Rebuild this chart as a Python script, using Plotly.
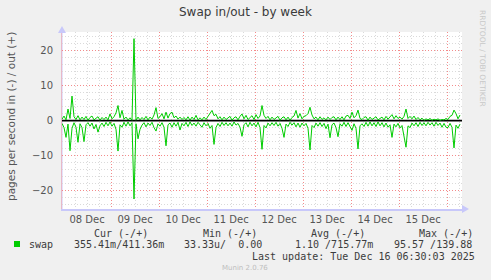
import pandas as pd
import plotly.graph_objects as go

# hourly samples, pages per second
swap_out = [0.4, 1.3, 0.2, 3.3, 0.6, 7.0, 1.1, 0.3, 1.4, 0.2,
            1.0, 0.3, 1.2, 0.1, 0.9, 1.3, 0.2, 0.8, 1.1, 0.1,
            0.9, 0.3, 1.0, 0.2, 1.9, 0.5, 1.1, 2.2, 4.3, 0.8,
            2.9, 0.4, 1.0, 0.2, 0.8, 0.1, 23.4, 0.1, 1.0, 0.2,
            0.9, 0.3, 1.2, 0.2, 1.0, 0.4, 1.6, 3.7, 0.6, 1.1,
            2.0, 0.5, 2.4, 0.7, 2.0, 2.4, 0.8, 1.3, 0.4, 1.0,
            0.3, 0.9, 0.2, 1.1, 0.1, 1.0, 0.3, 1.5, 0.2, 0.8,
            0.2, 1.0, 0.3, 1.2, 2.0, 2.9, 1.4, 1.8, 0.5, 1.1,
            0.2, 1.0, 0.3, 0.9, 1.2, 0.1, 0.8, 1.1, 0.2, 1.2,
            1.9, 0.5, 1.5, 0.3, 1.0, 1.4, 0.3, 1.7, 0.6, 1.3,
            4.3, 1.5, 0.6, 1.2, 0.2, 1.0, 0.3, 0.9, 1.2, 0.1,
            0.8, 1.1, 0.2, 1.0, 0.1, 0.9, 1.3, 2.9, 0.7, 2.0,
            0.5, 1.2, 1.4, 2.0, 3.8, 1.6, 0.5, 1.0, 0.2, 1.1,
            0.3, 0.8, 0.2, 1.0, 0.3, 0.9, 1.1, 0.2, 1.0, 0.3,
            1.1, 0.2, 1.3, 1.5, 0.6, 2.4, 0.8, 1.4, 3.0, 0.6,
            0.3, 0.9, 1.1, 0.1, 1.0, 0.3, 0.8, 1.1, 0.2, 0.7,
            1.0, 0.2, 1.2, 0.4, 1.2, 1.7, 0.5, 1.4, 0.6, 1.0,
            0.4, 1.2, 3.3, 0.6, 1.2, 0.5, 1.3, 0.3, 0.9, 0.2,
            0.7, 0.1, 0.5, 0.2, 0.6, 0.1, 0.4, 0.2, 0.5, 0.1,
            0.3, 0.2, 0.6, 0.3, 1.2, 1.5, 3.0, 2.0, 0.5, 1.6]

swap_in = [0.8, 2.0, 4.8, 1.0, 8.6, 2.2, 0.6, 1.9, 6.2, 0.9,
           2.0, 6.0, 1.2, 0.6, 1.6, 0.7, 2.4, 1.1, 3.3, 1.5,
           0.7, 1.7, 0.5, 1.5, 0.4, 1.6, 0.8, 2.5, 8.7, 1.2,
           1.9, 0.5, 1.6, 0.4, 1.5, 0.6, 22.4, 0.9, 5.2, 2.5,
           1.3, 0.6, 1.8, 0.7, 1.4, 0.5, 2.0, 3.0, 0.9, 1.6,
           0.6, 1.9, 7.2, 1.2, 0.7, 1.9, 0.6, 1.6, 0.5, 2.7,
           0.8, 1.5, 0.5, 1.7, 0.4, 1.4, 0.7, 1.6, 0.5, 1.3,
           1.9, 0.6, 1.5, 0.8, 2.2, 1.4, 6.8, 2.0, 0.8, 1.7,
           0.5, 1.4, 0.6, 1.5, 0.7, 1.6, 0.4, 1.3, 0.8, 1.9,
           4.5, 1.2, 0.6, 1.8, 0.5, 1.5, 0.7, 1.8, 0.5, 2.0,
           8.2, 1.4, 2.1, 0.7, 1.5, 0.6, 1.4, 0.5, 1.6, 0.8,
           2.2, 4.8, 1.0, 1.7, 0.5, 1.3, 0.6, 1.8, 0.7, 1.9,
           0.7, 1.5, 0.8, 2.2, 8.4, 1.4, 2.0, 0.7, 1.6, 0.6,
           1.7, 0.8, 2.3, 1.0, 4.9, 1.2, 0.7, 2.0, 4.6, 0.9,
           1.6, 0.5, 1.7, 0.6, 1.9, 2.8, 0.9, 2.2, 8.1, 1.5,
           0.9, 1.7, 0.5, 1.6, 0.4, 1.5, 0.6, 1.7, 0.4, 1.5,
           0.6, 1.8, 0.7, 1.9, 1.2, 4.8, 1.0, 1.8, 0.8, 2.1,
           1.4, 4.8, 7.6, 1.5, 2.0, 0.7, 1.5, 0.6, 1.7, 0.5,
           1.4, 0.6, 1.5, 0.5, 1.3, 0.6, 1.6, 0.5, 1.4, 0.7,
           1.9, 0.8, 1.9, 2.0, 0.8, 1.9, 7.8, 1.3, 2.2, 1.0]

start_time = "2025-12-07 23:30"
end_time = "2025-12-16 07:30"
times = pd.date_range(start_time, periods=len(swap_out), freq="h")

legend_headers = ["Cur (-/+)", "Min (-/+)", "Avg (-/+)", "Max (-/+)"]
legend_values = ["355.41m/411.36m", "33.33u/  0.00", "1.10 /715.77m", "95.57 /139.88"]
series_name = "swap"
last_update = "Last update: Tue Dec 16 06:30:03 2025"
title_text = "Swap in/out - by week"
y_title = "pages per second in (-) / out (+)"

W, H = 491, 280
L, R, T, B = 62, 462, 32, 209
GREEN = "#00CC00"
TXT = "#3c3c3c"
MONO = "DejaVu Sans Mono"
MAJOR = "rgba(240,110,110,0.8)"
MINOR = "#DADADA"


def px(x):
    return (x - L) / (R - L)


def py(y):
    return (B - y) / (B - T)


fig = go.Figure()
fig.add_trace(go.Scatter(x=[start_time, end_time], y=[0, 0], mode="lines",
                         line=dict(color="#000000", width=1.8), hoverinfo="skip"))
fig.add_trace(go.Scatter(x=times, y=swap_out, mode="lines",
                         line=dict(color=GREEN, width=1), hoverinfo="skip"))
fig.add_trace(go.Scatter(x=times, y=[-v for v in swap_in], mode="lines",
                         line=dict(color=GREEN, width=1), hoverinfo="skip"))

fig.update_layout(
    width=W, height=H, showlegend=False,
    margin=dict(l=L, r=W - R, t=T, b=H - B, pad=0),
    paper_bgcolor="#F0F0F0", plot_bgcolor="#FFFFFF",
    font=dict(family="DejaVu Sans", size=10, color="#555555"),
    xaxis=dict(range=[start_time, end_time], type="date",
               dtick=86400000, tick0="2025-12-08", tickformat="%d %b",
               ticklabelmode="period", ticks="", showgrid=True,
               gridcolor=MAJOR, griddash="1px,2px", gridwidth=1,
               minor=dict(dtick=6 * 3600000, showgrid=True, gridcolor=MINOR,
                          griddash="1px,2px", gridwidth=1),
               showline=True, linecolor="#C8C8FA", linewidth=2, zeroline=False,
               tickfont=dict(size=10, color="#555555"), fixedrange=True),
    yaxis=dict(range=[-25.25, 25.3], dtick=10, tick0=0, ticks="",
               showgrid=True, gridcolor=MAJOR, griddash="1px,2px",
               gridwidth=1,
               minor=dict(dtick=2, showgrid=True, gridcolor=MINOR,
                          griddash="1px,2px", gridwidth=1),
               showline=True, linecolor="#E8B8C8", linewidth=1, zeroline=False,
               ticklabelstandoff=6,
               tickfont=dict(size=10, color="#555555"), fixedrange=True),
)

shapes = [
    # axis arrows
    dict(type="path", xref="paper", yref="paper",
         path=f"M {px(58)} {py(33)} L {px(66)} {py(33)} L {px(62)} {py(26)} Z",
         fillcolor="#C8C8FA", line=dict(width=0)),
    dict(type="path", xref="paper", yref="paper",
         path=f"M {px(462)} {py(205)} L {px(462)} {py(213)} L {px(469)} {py(209)} Z",
         fillcolor="#C8C8FA", line=dict(width=0)),
    dict(type="line", xref="paper", yref="paper", x0=px(62), x1=px(62), y0=py(209), y1=py(33),
         line=dict(color="#C8C8FA", width=1), layer="below"),
    # legend swatch
    dict(type="rect", xref="paper", yref="paper", x0=px(14), x1=px(20), y0=py(247), y1=py(241),
         fillcolor=GREEN, line=dict(width=0)),
]
fig.update_layout(shapes=shapes)

ann = []
ann.append(dict(text=title_text, x=px(245.5), y=py(12), xanchor="center", yanchor="middle",
                font=dict(family="DejaVu Sans", size=12, color="#3a3a3a")))
ann.append(dict(text=y_title, x=px(11), y=py(117), xanchor="center", yanchor="middle",
                textangle=-90, font=dict(family="DejaVu Sans", size=10.5, color="#555555")))
ann.append(dict(text="RRDTOOL / TOBI OETIKER", x=px(483), y=py(58), xanchor="center",
                yanchor="middle", textangle=90,
                font=dict(family="DejaVu Sans", size=7.5, color="#C8C8C8")))
header_x = [92, 201, 309, 417]
for hx, h in zip(header_x, legend_headers):
    ann.append(dict(text=h, x=px(hx), y=py(233), xanchor="left", yanchor="middle",
                    font=dict(family=MONO, size=10, color=TXT)))
ann.append(dict(text=series_name, x=px(27), y=py(244), xanchor="left", yanchor="middle",
                font=dict(family=MONO, size=10, color=TXT)))
value_x = [72, 182, 293, 392]
for vx, v in zip(value_x, legend_values):
    ann.append(dict(text=v.replace(" ", "&nbsp;"), x=px(vx), y=py(244), xanchor="left",
                    yanchor="middle", font=dict(family=MONO, size=10, color=TXT)))
ann.append(dict(text=last_update, x=px(477), y=py(256.5), xanchor="right", yanchor="middle",
                font=dict(family=MONO, size=10, color=TXT)))
ann.append(dict(text="Munin 2.0.76", x=px(245), y=py(268), xanchor="center", yanchor="middle",
                font=dict(family="DejaVu Sans", size=7, color="#BEBEBE")))
for a in ann:
    a.update(xref="paper", yref="paper", showarrow=False)
fig.update_layout(annotations=ann)

fig.write_html("out.html", config={"displayModeBar": False})
